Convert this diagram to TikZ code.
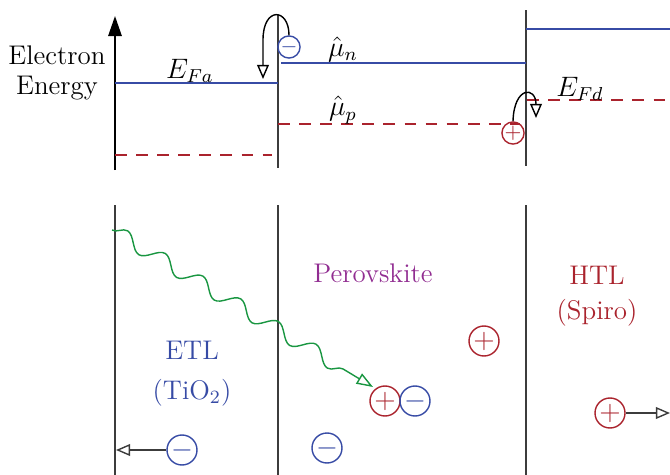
\documentclass[tikz,border=0pt]{standalone}
\usetikzlibrary{arrows.meta,decorations.pathmorphing}

\definecolor{elblue}{RGB}{55,75,165}
\definecolor{holered}{RGB}{170,35,45}
\definecolor{perovpurple}{RGB}{145,45,145}
\definecolor{photongreen}{RGB}{25,150,65}
\definecolor{wallgray}{RGB}{60,60,60}

\tikzset{
  txt/.style={font=\fontsize{11.5}{14}\selectfont},
  wall/.style={wallgray, line width=0.8pt},
  nlevel/.style={elblue, line width=0.7pt},
  plevel/.style={holered, dashed, line width=0.7pt, dash pattern=on 5pt off 4pt},
  electron/.style={circle, draw=elblue, text=elblue, line width=0.6pt, inner sep=0pt, minimum size=#1},
  hole/.style={circle, draw=holered, text=holered, line width=0.6pt, inner sep=0pt, minimum size=#1},
  hop/.style={-{Triangle[open, length=6pt, width=5pt]}, line width=0.6pt}
}

\begin{document}
\begin{tikzpicture}[x=0.015cm, y=-0.015cm]
\useasboundingbox (0,0) rectangle (670,475);

% Energieachse
\draw[line width=0.8pt, -{Triangle[length=0.3cm, width=0.2cm]}] (115,170) -- (115,16);
\node[txt] (elec) at (57,55) {Electron};
\node[txt] (ener) at (57,88) {Energy};

% Grenzflaechen oben
\draw[wall] (278,15) -- (278,168);
\draw[wall] (526,10) -- (526,166);

% Niveaus ETL
\draw[nlevel] (115,83) -- (278,83);
\draw[plevel] (115,155) -- (272,155);
\node[txt] (efa) at (190,71) {$E_{Fa}$};

% Niveaus Perowskit
\draw[nlevel] (281,63) -- (526,63);
\draw[plevel] (278,124) -- (520,124);
\node[txt] (mun) at (343,49) {$\hat{\mu}_n$};
\node[txt] (mup) at (343,110) {$\hat{\mu}_p$};

% Niveaus HTL
\draw[nlevel] (526,29) -- (670,29);
\draw[plevel] (527,100) -- (670,100);
\node[txt] (efd) at (580,89) {$E_{Fd}$};

% Ladungstraeger an den Grenzen
\node[electron=0.3cm, font=\small] (etop) at (289,47) {$-$};
\coordinate (etopend) at (263,79);
\draw[hop] (etop.north) .. controls (289,8) and (263,6) .. (263,40) -- (etopend);

\node[hole=0.3cm, font=\small] (htop) at (513,133) {$+$};
\coordinate (htopend) at (536,118);
\draw[hop] (htop.north) .. controls (514,86) and (536,86) .. (htopend);

% Grenzflaechen unten
\draw[wall] (115,205) -- (115,475);
\draw[wall] (278,205) -- (278,475);
\draw[wall] (526,205) -- (526,475);

% Schichten
\node[txt, text=elblue] (etl) at (192,350) {ETL};
\node[txt, text=elblue] (tio) at (192,393) {(TiO$_2$)};
\node[txt, text=perovpurple] (perov) at (373,273) {Perovskite};
\node[txt, text=holered] (htl) at (597,275) {HTL};
\node[txt, text=holered] (spiro) at (597,313) {(Spiro)};

% Photon
\coordinate (phstart) at (112,230);
\coordinate (phend) at (373,387);
\draw[photongreen, line width=0.6pt,
  decorate, decoration={snake, amplitude=0.11cm, segment length=0.66cm, post length=0.4cm},
  -{Triangle[open, length=7pt, width=5pt]}] (phstart) -- (phend);

% Ladungstraeger im Volumen
\node[hole=0.45cm, font=\large] (hpair) at (385,401) {$+$};
\node[electron=0.45cm, font=\large] (epair) at (415,401) {$-$};
\node[hole=0.45cm, font=\large] (hfree) at (484,341) {$+$};
\node[electron=0.45cm, font=\large] (efree) at (327,448) {$-$};

\node[electron=0.45cm, font=\large] (eout) at (182,450) {$-$};
\coordinate (eoutend) at (116,450);
\draw[hop, wallgray] (eout) -- (eoutend);

\node[hole=0.45cm, font=\large] (hout) at (610,413) {$+$};
\coordinate (houtend) at (670,413);
\draw[hop, wallgray] (hout) -- (houtend);

\end{tikzpicture}
\end{document}
